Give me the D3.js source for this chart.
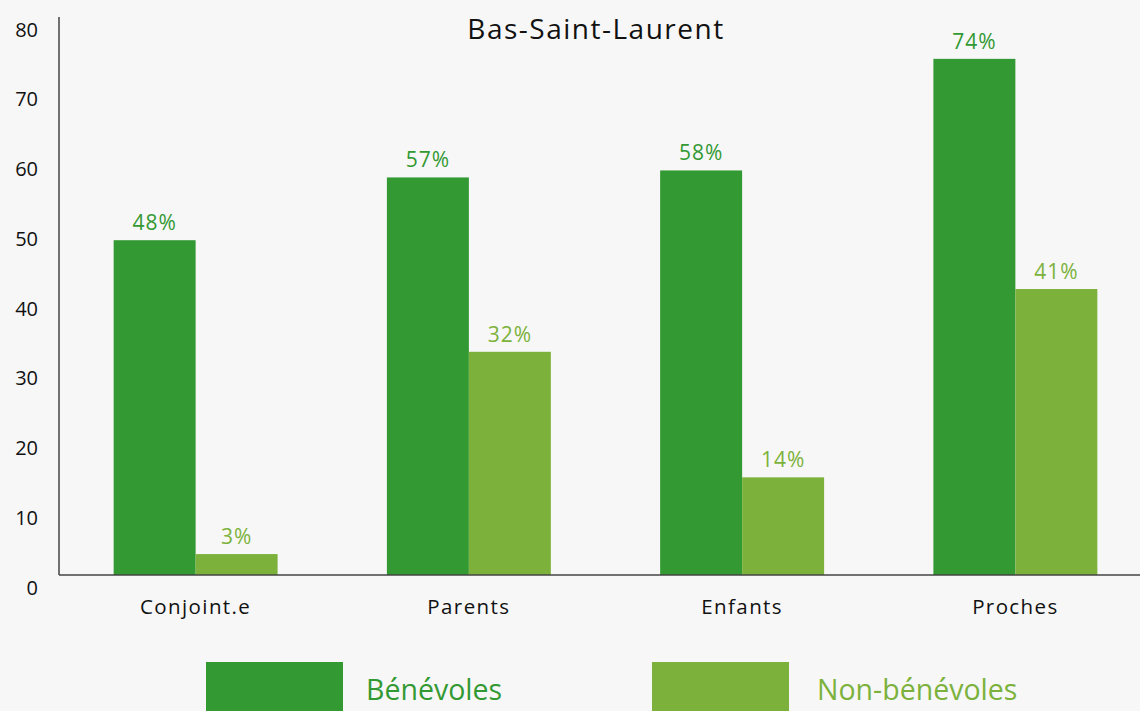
<!DOCTYPE html>
<html>
<head>
<meta charset="utf-8">
<script src="https://cdn.jsdelivr.net/npm/d3@7"></script>
<style>
  body { margin: 0; background: #f7f7f7; }
  text { font-family: "Open Sans", "Noto Sans", sans-serif; }
</style>
</head>
<body>
<div id="chart"></div>
<script>
// data
const categories = ['Conjoint.e', 'Parents', 'Enfants', 'Proches'];
const seriesNames = ['Bénévoles', 'Non-bénévoles'];
const benevoles = [48, 57, 58, 74];
const nonBenevoles = [3, 32, 14, 41];
const yTicks = [0, 10, 20, 30, 40, 50, 60, 70, 80];
const title = 'Bas-Saint-Laurent';

const colors = ['#339933', '#7cb23c'];

const width = 1140;
const height = 711;
const margin = { top: 17, right: -12, bottom: 136, left: 59 };

const svg = d3.select('#chart').append('svg')
  .attr('width', width)
  .attr('height', height);

svg.append('rect')
  .attr('width', width)
  .attr('height', height)
  .attr('fill', '#f7f7f7');

const xScale = d3.scaleBand()
  .domain(categories)
  .range([margin.left, width - margin.right])
  .paddingInner(0.4)
  .paddingOuter(0.2);

const xInner = d3.scaleBand()
  .domain(seriesNames)
  .range([0, xScale.bandwidth()]);

const yScale = d3.scaleLinear()
  .domain([0, 80])
  .range([height - margin.bottom, margin.top]);

const rows = categories.map((c, i) => ({
  cat: c,
  values: [
    { name: seriesNames[0], v: benevoles[i], color: colors[0] },
    { name: seriesNames[1], v: nonBenevoles[i], color: colors[1] }
  ]
}));

// bars
const groups = svg.selectAll('g.cat')
  .data(rows)
  .enter()
  .append('g')
  .attr('class', 'cat')
  .attr('transform', d => `translate(${xScale(d.cat)},0)`);

groups.selectAll('rect')
  .data(d => d.values)
  .enter()
  .append('rect')
  .attr('x', d => xInner(d.name))
  .attr('y', d => yScale(d.v))
  .attr('width', xInner.bandwidth())
  .attr('height', d => yScale(0) - yScale(d.v))
  .attr('fill', d => d.color);

// value labels
groups.selectAll('text')
  .data(d => d.values)
  .enter()
  .append('text')
  .attr('x', d => xInner(d.name) + xInner.bandwidth() / 2)
  .attr('y', d => yScale(d.v) - 10)
  .attr('text-anchor', 'middle')
  .attr('font-size', 21)
  .attr('letter-spacing', 1)
  .attr('fill', d => d.color)
  .text(d => d.v + '%');

// y axis (labels sit a little below the tick value, like the original)
const yAxis = svg.append('g')
  .attr('transform', `translate(${margin.left},0)`)
  .call(d3.axisLeft(yScale).tickValues(yTicks).tickSize(0).tickPadding(21));
yAxis.select('.domain')
  .attr('d', `M0,${yScale(80)}V${yScale(0)}`)
  .attr('stroke', '#444')
  .attr('stroke-width', 1.5);
yAxis.selectAll('text')
  .attr('font-size', 20)
  .attr('fill', '#111')
  .attr('dy', 19)
  .style('font-family', '"Open Sans", "Noto Sans", sans-serif');

// x axis
const xAxis = svg.append('g')
  .attr('transform', `translate(0,${yScale(0)})`)
  .call(d3.axisBottom(xScale).tickSize(0).tickPadding(24));
xAxis.select('.domain')
  .attr('d', `M${margin.left},0H${width}`)
  .attr('stroke', '#444')
  .attr('stroke-width', 1.5);
xAxis.selectAll('text')
  .attr('font-size', 20.5)
  .attr('fill', '#111')
  .attr('letter-spacing', 1.4)
  .style('font-family', '"Open Sans", "Noto Sans", sans-serif');

// title
svg.append('text')
  .attr('x', 596)
  .attr('y', 39)
  .attr('text-anchor', 'middle')
  .attr('font-size', 28)
  .attr('letter-spacing', 1.5)
  .attr('fill', '#111')
  .text(title);

// legend
const legendX = [206, 652];
const legend = svg.selectAll('g.legend')
  .data(seriesNames)
  .enter()
  .append('g')
  .attr('class', 'legend')
  .attr('transform', (d, i) => `translate(${legendX[i]},662)`);

legend.append('rect')
  .attr('width', 137)
  .attr('height', 60)
  .attr('fill', (d, i) => colors[i]);

legend.append('text')
  .attr('x', (d, i) => i === 0 ? 160 : 165)
  .attr('y', 38)
  .attr('font-size', 28.5)
  .attr('fill', (d, i) => colors[i])
  .text(d => d);
</script>
</body>
</html>
